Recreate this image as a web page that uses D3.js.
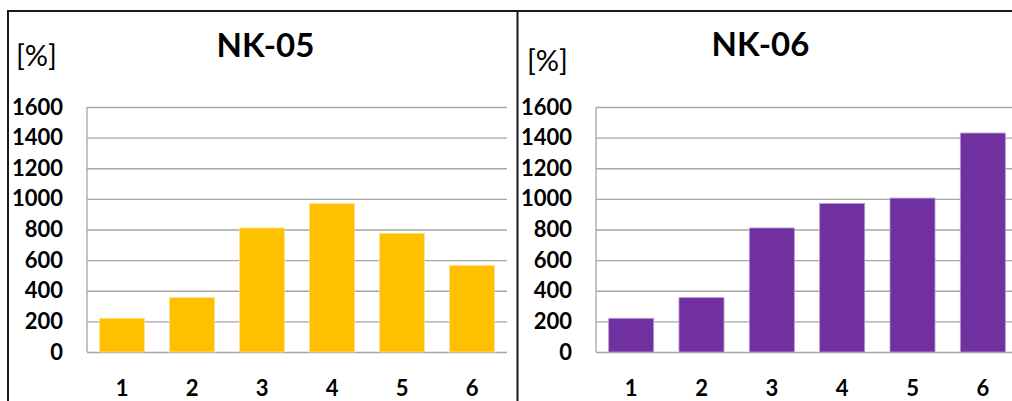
<!DOCTYPE html>
<html>
<head>
<meta charset="utf-8">
<script src="https://cdn.jsdelivr.net/npm/d3@7"></script>
<style>
  html, body { margin: 0; padding: 0; background: #fff; }
  svg { display: block; }
  text { font-family: Lato, "Open Sans", sans-serif; fill: #000; }
</style>
</head>
<body>
<svg id="chart" width="1012" height="401"></svg>
<script>
// Sample positions along the x axis
const categories = ["1", "2", "3", "4", "5", "6"];
// Values in percent for each sample set
const nk05Values = [220, 355, 810, 970, 775, 565];
const nk06Values = [220, 355, 810, 970, 1005, 1430];
// Value axis tick labels
const yTickValues = [0, 200, 400, 600, 800, 1000, 1200, 1400, 1600];
const panelTitles = ["NK-05", "NK-06"];
const unitLabel = "[%]";

const svg = d3.select("#chart");

// Frame around the panels
svg.append("line").attr("x1", 8).attr("x2", 1012).attr("y1", 11).attr("y2", 11)
  .attr("stroke", "#1a1a1a").attr("stroke-width", 2);
svg.append("line").attr("x1", 8).attr("x2", 8).attr("y1", 10).attr("y2", 401)
  .attr("stroke", "#1a1a1a").attr("stroke-width", 2);
svg.append("line").attr("x1", 517.5).attr("x2", 517.5).attr("y1", 10).attr("y2", 401)
  .attr("stroke", "#1a1a1a").attr("stroke-width", 2);

const panels = [
  { title: panelTitles[0], values: nk05Values, color: "#FFC000", edge: "#ffe08a",
    left: 87, width: 420, titleX: 265.5, titleY: 57, titleSize: 33, unitX: 16, unitY: 66 },
  { title: panelTitles[1], values: nk06Values, color: "#7030A0", edge: "#b89ad4",
    left: 596, width: 422, titleX: 760.5, titleY: 56, titleSize: 33, unitX: 527, unitY: 71 }
];

const plotTop = 107, plotBottom = 352;

panels.forEach(p => {
  const g = svg.append("g");

  const x = d3.scaleBand()
    .domain(categories)
    .range([p.left, p.left + p.width])
    .paddingInner(0.36)
    .paddingOuter(0.18);

  const y = d3.scaleLinear().domain([0, 1600]).range([plotBottom, plotTop]);

  // Value axis with horizontal gridlines
  const yAxis = g.append("g")
    .attr("transform", `translate(${p.left},0)`)
    .call(d3.axisLeft(y).tickValues(yTickValues).tickFormat(d3.format("d"))
      .tickSize(-p.width).tickPadding(24));
  yAxis.select(".domain").remove();
  yAxis.selectAll(".tick line").attr("stroke", "#a6a6a6").attr("stroke-width", 1.3);
  yAxis.selectAll(".tick text")
    .style("font-family", "Lato, sans-serif")
    .style("font-size", "22px")
    .style("font-weight", "700")
    .attr("fill", "#000");

  // Vertical axis line
  g.append("line")
    .attr("x1", p.left).attr("x2", p.left)
    .attr("y1", y(1600)).attr("y2", y(0))
    .attr("stroke", "#a6a6a6").attr("stroke-width", 1.3);

  // Bars
  g.selectAll("rect.bar")
    .data(p.values)
    .join("rect")
    .attr("class", "bar")
    .attr("x", (d, i) => x(categories[i]))
    .attr("width", x.bandwidth())
    .attr("y", d => y(d))
    .attr("height", d => y(0) - y(d))
    .attr("fill", p.color)
    .attr("stroke", p.edge)
    .attr("stroke-width", 0.8);

  // Category axis
  const xAxis = g.append("g")
    .attr("transform", `translate(0,${plotBottom})`)
    .call(d3.axisBottom(x).tickSize(0).tickPadding(28));
  xAxis.select(".domain").remove();
  xAxis.selectAll(".tick text")
    .style("font-family", "Lato, sans-serif")
    .style("font-size", "22px")
    .style("font-weight", "700")
    .attr("fill", "#000");

  // Title
  g.append("text")
    .attr("x", p.titleX).attr("y", p.titleY)
    .attr("text-anchor", "middle")
    .style("font-size", p.titleSize + "px")
    .style("font-weight", "700")
    .text(p.title);

  // Unit label
  g.append("text")
    .attr("x", p.unitX).attr("y", p.unitY)
    .style("font-size", "29px")
    .style("font-weight", "400")
    .text(unitLabel);
});
</script>
</body>
</html>
